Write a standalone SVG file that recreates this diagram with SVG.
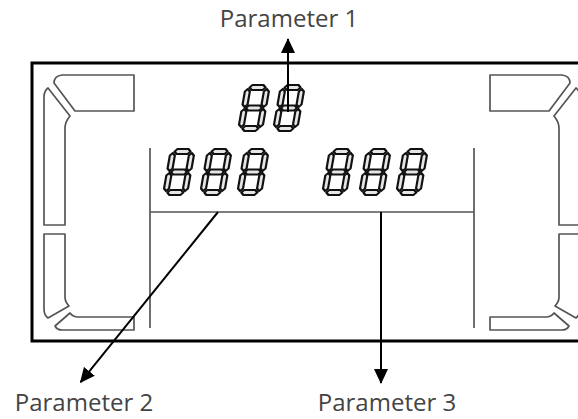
<svg xmlns="http://www.w3.org/2000/svg" width="578" height="419" viewBox="0 0 578 419">
<style>
.lbl{font-family:"Open Sans","Noto Sans",sans-serif;font-size:24px;fill:#444;text-anchor:middle}
.seg{fill:#e6e6e6;stroke:#111;stroke-width:2.2;stroke-linejoin:round}
.pan{fill:#fff;stroke:#555;stroke-width:1.7;stroke-linejoin:round}
.inl{stroke:#555;stroke-width:1.7;fill:none}
.arr{stroke:#000;stroke-width:2;fill:none;marker-end:url(#ah)}
</style>
<defs>
<marker id="ah" viewBox="0 0 15 14" refX="14" refY="7" markerWidth="15" markerHeight="14" markerUnits="userSpaceOnUse" orient="auto">
<path d="M0,0 L15,7 L0,14 Z" fill="#000"/>
</marker>
<g id="dig">
<polygon class="seg" points="4,2.5 6.5,0 17.5,0 20,2.5 17.5,5 6.5,5"/>
<polygon class="seg" points="4,23 6.5,20.5 17.5,20.5 20,23 17.5,25.5 6.5,25.5"/>
<polygon class="seg" points="4,43.5 6.5,41 17.5,41 20,43.5 17.5,46 6.5,46"/>
<polygon class="seg" points="2.5,4 5,6.5 5,19.5 2.5,22 0,19.5 0,6.5"/>
<polygon class="seg" points="21.5,4 24,6.5 24,19.5 21.5,22 19,19.5 19,6.5"/>
<polygon class="seg" points="2.5,24 5,26.5 5,39.5 2.5,42 0,39.5 0,26.5"/>
<polygon class="seg" points="21.5,24 24,26.5 24,39.5 21.5,42 19,39.5 19,26.5"/>
</g>
<g id="side">
<path class="pan" d="M62,75 H134 V111 H75 L54,83 Q54,76 62,75 Z"/>
<path class="pan" d="M48,88 L70,116 Q65,122 65,128 V225 H44 V97 Q44,91 48,88 Z"/>
<path class="pan" d="M44,234 H65 V297 Q65,302 69,306 L48,318 Q44,315 44,309 Z"/>
<path class="pan" d="M55,326 L70,313 Q73,317 78,317 H134 V330 H62 Q57,330 55,326 Z"/>
</g>
</defs>
<rect width="578" height="419" fill="#fff"/>
<g id="lcd">
<rect x="32" y="63" width="560" height="278" fill="none" stroke="#000" stroke-width="3"/>
<use href="#side"/>
<use href="#side" transform="translate(624,0) scale(-1,1)"/>
<line class="inl" x1="150" y1="148" x2="150" y2="328"/>
<line class="inl" x1="474" y1="148" x2="474" y2="328"/>
<line class="inl" x1="150" y1="212" x2="474" y2="212"/>
</g>
<g id="param1-digits">
<use href="#dig" transform="translate(246,85) skewX(-10)"/>
<use href="#dig" transform="translate(281,85) skewX(-10)"/>
</g>
<g id="param2-digits">
<use href="#dig" transform="translate(171,149) skewX(-10)"/>
<use href="#dig" transform="translate(208,149) skewX(-10)"/>
<use href="#dig" transform="translate(245,149) skewX(-10)"/>
</g>
<g id="param3-digits">
<use href="#dig" transform="translate(330,149) skewX(-10)"/>
<use href="#dig" transform="translate(367,149) skewX(-10)"/>
<use href="#dig" transform="translate(404,149) skewX(-10)"/>
</g>
<g id="connectors">
<line class="arr" x1="288" y1="112" x2="288" y2="39"/>
<line class="arr" x1="218" y1="212" x2="80.6" y2="382.2"/>
<line class="arr" x1="381" y1="212" x2="381" y2="383"/>
</g>
<g id="label1"><text class="lbl" x="289" y="27">Parameter 1</text></g>
<g id="label2"><text class="lbl" x="84" y="411">Parameter 2</text></g>
<g id="label3"><text class="lbl" x="387" y="411">Parameter 3</text></g>
</svg>
